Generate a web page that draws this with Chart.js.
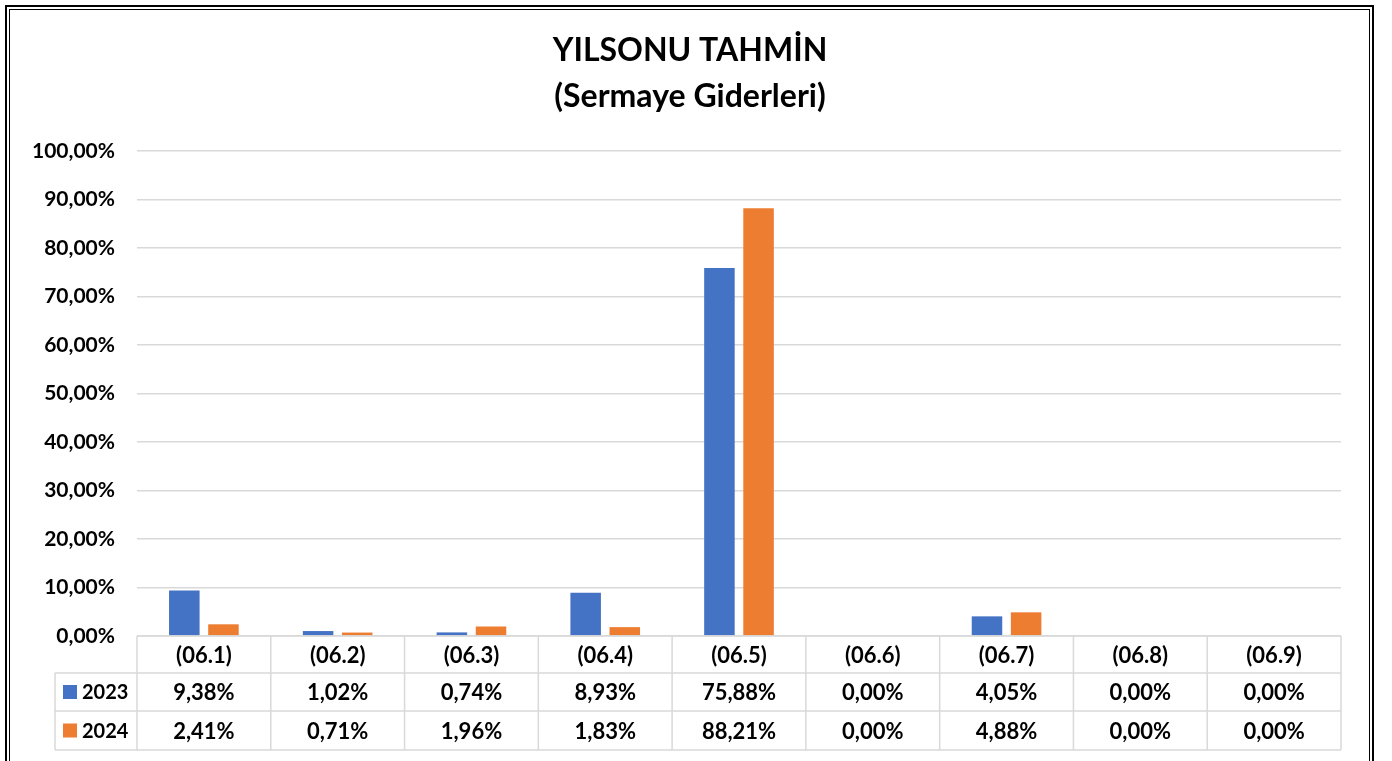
<!DOCTYPE html>
<html>
<head>
<meta charset="utf-8">
<script src="https://cdn.jsdelivr.net/npm/chart.js@4.4.1/dist/chart.umd.min.js"></script>
<style>
    html, body { margin: 0; padding: 0; background: #fff; }
    #wrap { width: 1392px; height: 761px; }
</style>
</head>
<body>
<div id="wrap"><canvas id="chart"></canvas></div>
<script>
const titleLines = ['YILSONU TAHMİN', '(Sermaye Giderleri)']
const categories = ['(06.1)', '(06.2)', '(06.3)', '(06.4)', '(06.5)', '(06.6)', '(06.7)', '(06.8)', '(06.9)']
const seriesNames = ['2023', '2024']
const values2023 = [9.38, 1.02, 0.74, 8.93, 75.88, 0.00, 4.05, 0.00, 0.00]
const values2024 = [2.41, 0.71, 1.96, 1.83, 88.21, 0.00, 4.88, 0.00, 0.00]
const colors = ['#4472C4', '#ED7D31']

const FONT = 'Lato, "Open Sans", sans-serif'
const pct = v => v.toFixed(2).replace('.', ',') + '%'

const frame = {
    id: 'frame',
    beforeDraw({ ctx }) {
        ctx.save()
        ctx.fillStyle = '#fff'
        ctx.fillRect(0, 0, 1392, 761)
        ctx.strokeStyle = '#000'
        ctx.lineWidth = 2
        ctx.strokeRect(6, 6, 1367, 770)
        ctx.lineWidth = 1
        ctx.strokeRect(9.5, 9.5, 1360, 770)
        ctx.restore()
    },
    afterDraw({ ctx }) {
        ctx.save()
        ctx.fillStyle = '#000'
        ctx.font = 'bold 32px ' + FONT
        ctx.textAlign = 'center'
        ctx.textBaseline = 'middle'
        ctx.fillText(titleLines[0], 690, 51)
        ctx.fillText(titleLines[1], 690, 97)
        ctx.restore()
    }
}

const dataTable = {
    id: 'dataTable',
    afterDraw(chart) {
        const { ctx, chartArea, data } = chart
        const x = chart.scales.x
        const n = categories.length
        const colW = (chartArea.right - chartArea.left) / n
        const rows = [chartArea.bottom, chartArea.bottom + 37, chartArea.bottom + 75, chartArea.bottom + 114]
        const legendLeft = 55

        ctx.save()
        ctx.strokeStyle = '#d9d9d9'
        ctx.lineWidth = 1.5
        ctx.beginPath()
        ctx.moveTo(chartArea.left, rows[0]); ctx.lineTo(chartArea.right, rows[0])
        for (let r = 1; r < rows.length; r++) {
            ctx.moveTo(legendLeft, rows[r]); ctx.lineTo(chartArea.right, rows[r])
        }
        for (let i = 0; i <= n; i++) {
            const xx = chartArea.left + i * colW
            ctx.moveTo(xx, rows[0]); ctx.lineTo(xx, rows[3])
        }
        ctx.moveTo(legendLeft, rows[1]); ctx.lineTo(legendLeft, rows[3])
        ctx.stroke()

        ctx.fillStyle = '#000'
        ctx.font = 'bold 22px ' + FONT
        ctx.textAlign = 'center'
        ctx.textBaseline = 'middle'
        categories.forEach((c, i) => {
            const cx = x.getPixelForValue(i)
            ctx.fillText(c, cx, (rows[0] + rows[1]) / 2 + 1)
            data.datasets.forEach((ds, d) => {
                ctx.fillText(pct(ds.data[i]), cx, (rows[d + 1] + rows[d + 2]) / 2 + 1)
            })
        })

        ctx.textAlign = 'left'
        ctx.font = 'bold 20px ' + FONT
        data.datasets.forEach((ds, d) => {
            const cy = (rows[d + 1] + rows[d + 2]) / 2
            ctx.fillStyle = ds.backgroundColor
            ctx.fillRect(63, cy - 7, 14, 14)
            ctx.fillStyle = '#000'
            ctx.fillText(ds.label, 82, cy + 1)
        })
        ctx.restore()
    }
}

new Chart(document.getElementById('chart'), {
    type: 'bar',
    data: {
        labels: categories,
        datasets: [
            { label: seriesNames[0], data: values2023, backgroundColor: colors[0] },
            { label: seriesNames[1], data: values2024, backgroundColor: colors[1] },
        ],
    },
    options: {
        responsive: true,
        maintainAspectRatio: false,
        animation: false,
        layout: { padding: { top: 151, bottom: 125, right: 51, left: 0 } },
        datasets: { bar: { categoryPercentage: 0.585, barPercentage: 0.78 } },
        scales: {
            x: {
                display: false,
            },
            y: {
                min: 0,
                max: 100,
                ticks: {
                    stepSize: 10,
                    padding: 22,
                    color: '#000',
                    font: { family: FONT, size: 21, weight: 'bold' },
                    callback: v => pct(v),
                },
                grid: { color: '#d9d9d9', lineWidth: 1.5, drawTicks: false },
                border: { display: false },
                afterFit(scale) { scale.width = 137 },
            },
        },
        plugins: {
            legend: { display: false },
            title: { display: false },
            tooltip: { enabled: false },
        },
    },
    plugins: [frame, dataTable],
})
</script>
</body>
</html>
